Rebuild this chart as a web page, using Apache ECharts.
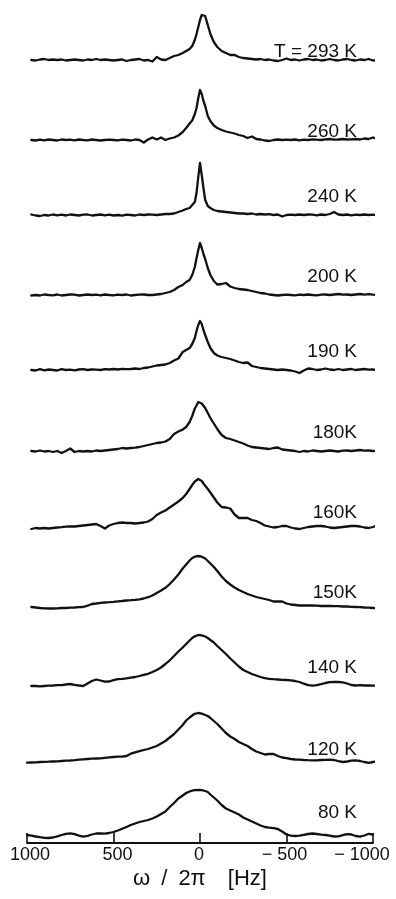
<!DOCTYPE html>
<html>
<head>
<meta charset="utf-8">
<script src="https://cdn.jsdelivr.net/npm/echarts@6/dist/echarts.min.js"></script>
<style>
  html, body { margin: 0; padding: 0; background: #ffffff; }
  #chart { width: 396px; height: 899px; }
</style>
</head>
<body>
<div id="chart"></div>
<script>
// NMR line shapes vs. temperature, frequency offset in Hz (axis runs +1000 -> -1000)
const temperatures = ['T = 293 K', '260 K', '240 K', '200 K', '190 K', '180K', '160K', '150K', '140 K', '120 K', '80 K'];

const tickValues = [1000, 500, 0, -500, -1000];

const freqHz = [
  1000, 975, 950, 925, 900, 875, 850, 825, 800, 775, 750, 725, 700, 675, 650,
  625, 600, 575, 550, 525, 500, 475, 450, 425, 400, 375, 350, 325, 300, 275,
  250, 225, 200, 175, 150, 125, 100, 80, 60, 45, 30, 20, 10, 0, -10, -20, -30,
  -45, -60, -80, -100, -125, -150, -175, -200, -225, -250,
  -275, -300, -325, -350, -375, -400, -425, -450, -475, -500, -525, -550, -575,
  -600, -625, -650, -675, -700, -725, -750, -775, -800, -825, -850, -875, -900,
  -925, -950, -975, -1000, -1030
];

// intensities (arbitrary units, baseline = 0) on the freqHz points
const i293 = [
  null, 0, -0.5, 0.5, 1, 0, 0.5, 0, 0.5, -0.5, 0, 0.5, 0, -0.5, 0.5, 0, 1, 0, 0.5, 0, -0.5, 0, 0.5, -1, 0, 0.5, 1, -0.5, 0, -1.5,
  3, 0.5, 0, 2, 4, 5, 7, 9, 11, 14, 20, 26, 33, 40, 45, 47, 44, 35, 26, 18, 13, 9, 7, 5, 5, 3, 2,
  1.5, 1, 0.5, 1, 0, 0.5, -0.5, -1, 0, 1.5, 0, 0.5, -0.5, 0.5, 1, 0, 0.5, -0.5, 0, 1, 0, -0.5, 0.5, 1, 0, -0.5, 0.5, 0, 1, -0.5, 0
];
const i260 = [
  null, 0, -0.5, 0.3, -0.3, 0.5, 0, -0.5, 0.5, 0, 0.3, -0.3, 0.5, 0, -0.3, 0.5, 0, -0.5, 0, 0.3, 0, -0.3, 0.3, 0, -0.5, 0.5, 0, -2.5, 0.5, 2.5,
  0.5, 2.5, 0, 1.5, 2.5, 4.5, 8, 12, 16.5, 19.5, 26, 32, 42, 50, 46, 39, 34, 24, 19, 14.5, 12, 10, 8.5, 7.5, 6.5, 5, 4,
  2, 3.5, 1, 0.5, -0.5, -1, 0, 0.5, 0, 0.3, 0, 0.5, -0.3, 0.3, 0, 0.7, 0.3, 0, 0.7, 1, 0.3, 0.5, 1, 0.5, 0.7, 1, 0.5, 1.5, 1, 2.5, 0.5
];
const i240 = [
  null, 0.5, -0.5, -1, 0, -0.5, 0.5, -0.3, 0.3, -0.5, 0.5, 0, -0.5, 0.3, 0.5, -0.5, 0, 0.5, -0.3, 0.3, -0.5, 0, -0.7, 0.3, 0, -0.5, 0.5, 0, 0.5, 0.3,
  0, 0.5, 1, 1, 1.5, 3, 4.5, 6, 7, 10, 13, 22, 38, 52, 40, 27, 15, 9, 7, 5, 4, 3.5, 3, 2.5, 2, 1.5, 1.5,
  1, 1.5, 0.5, 1, 0.5, 0.8, 0, 0.5, -1.5, 0, 0.3, 0, 0.5, 0, 0.5, 0.3, -0.3, 0.5, 0, 1, 3, 0.5, 0, 0.5, -0.3, 0.3, 0, 0.5, 0, 0.3, 0
];
const i200 = [
  null, -0.5, 0, -0.5, 0.5, 0, -0.3, 0.5, -0.5, 0, 0.5, 0.3, -0.5, 0, 0.5, 0, 0.3, -0.3, 0.5, 0, -0.3, 0.3, 0, 0.5, -0.5, 0, 0.3, 0.5, 0, 0,
  0.5, 1, 2, 3, 5, 8, 10, 13, 15, 20, 28, 37, 45, 52, 47, 41, 36, 27, 20, 14, 10.5, 11, 12, 8.5, 7, 6, 5.5,
  5, 4, 3, 2, 1.5, 0.5, 0, -0.5, 0, 0.3, 0, -0.3, 0.3, 0, 0.5, 0, -0.3, 0.3, 0.5, 0, 0.5, 1, 0.3, 0.5, 0, 0.5, 1, 0.3, 0.8, 0.3, 0
];
const i190 = [
  null, 0, -0.5, 0.8, -0.3, 0.5, 0, -0.5, 0.8, 0, 0.3, -0.3, 0.5, 0.8, 0, 0.5, 0.3, 0, 0.8, 0.5, 1, 0.5, 1.2, 0.8, 1, 1.5, 1, 2, 2.5, 3.5,
  4.5, 5, 5.5, 7, 9.5, 11.5, 18, 20, 22, 26, 32, 39, 45, 49, 46, 40, 35, 28, 22, 17, 14.5, 13, 12, 11, 9.5, 8, 7,
  7.5, 4, 3, 2, 1.5, 1, 0.5, 0, 0.5, 0, -0.5, -1.5, -3, -0.5, 1.5, 1, 0, 0.5, 1.5, 0.5, 0, 1, 0, 0.5, 1, 0, 0.5, 1, 0.3, 0.5, -0.5
];
const i180 = [
  null, 0, -0.5, 0.5, -0.5, 0, -1, 0, -2, 0, 2.5, -1, 0, -0.5, 0, -0.5, 0.5, 0, 0.5, 1, 1.5, 2, 3, 2.5, 3, 3.3, 4, 5, 6, 7,
  8, 8.5, 9.5, 12, 17, 19.5, 21.5, 24, 29, 35, 42.5, 45.5, 49, 48.5, 47.5, 45.5, 43, 38, 33, 27.5, 22, 16, 13, 12, 10.5, 9, 7.5,
  5.5, 4, 3.5, 3, 2.5, 2, 3, 3.5, 1.5, 1, 0.5, 0, -1, 0, -0.5, 0.5, 0, -0.5, 0, 0.5, 0, -0.5, 0.3, 0.5, 0, 0.5, 1, 0.3, 0.5, 0, 0.3
];
const i160 = [
  null, -1, 0, -0.5, 0, -0.5, 0, 0.5, 0.8, 1.3, 1.5, 1.5, 2, 2.5, 3, 3.5, 4, 2, -0.5, 2.5, 4, 5, 5.5, 5, 5, 4.5, 5, 5.5, 6.5, 9,
  13, 15.5, 17.5, 20.5, 23.5, 26.5, 30, 34, 39, 43, 46.5, 48, 49, 48.5, 47, 44.5, 42.5, 39, 35.5, 30.5, 25.5, 21, 20.5, 19.5, 13.5, 10, 10,
  10, 8, 7, 5, 2.5, 1.5, 0.5, 1, 2, 2, 0.5, -0.5, -1, 0, 1, 1.5, 2, 2, 1.5, 0.5, 0, 0.5, 1, 1.5, 2, 2, 1.5, 0.5, 0, 1, 3
];
const i150 = [
  null, 1, 0.5, 0, -0.3, -0.5, -0.5, -0.3, 0, 0, 0.3, 0.5, 0.8, 1, 2.3, 4, 4.5, 5.2, 5.5, 5.8, 6.2, 6.7, 7, 7.5, 7.8, 8.2, 8.7, 9.5, 10.8, 12.5,
  15, 17.5, 20.2, 24, 28.5, 33.5, 39.5, 43.5, 47.5, 50, 51.3, 51.8, 52, 51.8, 51.3, 50.8, 49.5, 47, 44.5, 41, 37, 31.5, 27, 23.5, 20.5, 18, 16,
  14, 12.5, 11, 10, 9, 8, 6.5, 6.5, 6.5, 4.5, 3.5, 3, 2.5, 2.5, 2.5, 2.5, 2.3, 2, 2, 2, 1.8, 1.8, 1.5, 1.5, 1.2, 1, 0.8, 0.5, 0.3, 0, -0.3
];
const i140 = [
  null, 0, 0, -0.3, 0, 0.3, 0.5, 0.8, 0.8, 1.5, 2, 1.2, 0.5, 0, 2.5, 5, 6.5, 5.5, 4.3, 4.5, 5.8, 6.8, 7.2, 7.7, 8.4, 9, 10, 11.2, 12.2, 14,
  16, 18.5, 22, 25.7, 30, 34.5, 38.5, 42, 45.5, 48, 49.7, 50.5, 51, 51, 50.6, 50, 49.5, 48, 46, 43.5, 40, 36, 32, 27.5, 23.5, 19.5, 16,
  14, 12, 10.5, 9, 7.8, 7.2, 6.8, 6.5, 6.2, 6, 5.6, 5, 4, 2.3, 0.8, 0.3, 0.8, 1.8, 3, 3.8, 4, 4, 3.7, 2.5, 1, 0.5, 0.8, 0.5, 0.5, 0.3, 0.5
];
const i120 = [
  -0.7, -0.5, -0.3, 0, 0.2, 0.3, 0.5, 0.7, 1, 1.3, 1.5, 1.8, 2.3, 2.7, 3, 3.3, 3.5, 3.7, 4.2, 4.7, 5, 5.3, 5.3, 6, 8.3, 9.7, 10.8, 12, 13, 14.5,
  16, 18.5, 21, 24.5, 28, 32.5, 37, 41.5, 44.5, 46.5, 48.2, 49, 49, 48.7, 48.3, 47.7, 47, 46, 44, 41, 38, 33.5, 29, 25.5, 23, 20, 18,
  16, 13, 10.5, 9, 7.5, 8, 8, 6, 4.5, 3.8, 3, 2.5, 2.3, 2, 1.8, 1.7, 1.7, 2, 2.2, 2.3, 2, 0.8, 0, 0.5, 1.3, 1.7, 1, 0, -0.8, 0, 1
];
const i80 = [
  1, 0.3, -0.5, -1.2, -1.8, -2, -1.5, -0.3, 1, 2.2, 2.7, 1.8, 0.3, -0.7, 0.2, 1.5, 2.5, 2.7, 2.3, 3, 4, 5.5, 7.3, 9, 11, 12.5, 14, 15, 16, 17.5,
  19.5, 22, 24.5, 29, 33, 37.5, 40.5, 43, 44.5, 45.3, 45.8, 46, 46, 46, 45.8, 45.5, 45, 44, 41.5, 38.5, 35.5, 31, 27.5, 25.5, 23.5, 21.5, 18.5,
  16.5, 14.5, 12.5, 10.5, 9, 8.3, 7.8, 7, 4.5, 1.5, 0.3, 0, 0.3, 1.2, 2, 2.5, 2, 1.3, 1, 0.3, -0.5, -0.3, 0.8, 1.8, 1.5, 0, -0.7, 0.5, 2.2, 1.5, null
];

const spectra = [i293, i260, i240, i200, i190, i180, i160, i150, i140, i120, i80];

// ---- layout ----
const PLOT_LEFT = 27, PLOT_RIGHT = 373;
const ROW_H = 60;                     // one intensity unit = 1 px
const rowBaseline = [60, 140, 215, 295, 370, 451, 528, 608, 686, 762, 836];
const labelCenterY = [52, 132, 197, 277, 352, 433, 513, 593, 668, 750, 813];
const LABEL_RIGHT = 357;
const AXIS_OFFSET = 7;
const INK = '#111111';
const FONT = '"Liberation Sans", Arial, sans-serif';
const tickShift = { '1000': 3, '500': 4, '0': -1, '-500': -2, '-1000': -11 };

const last = spectra.length - 1;
const grids = [], xAxes = [], yAxes = [], series = [];

spectra.forEach((vals, i) => {
  grids.push({
    left: PLOT_LEFT,
    width: PLOT_RIGHT - PLOT_LEFT,
    top: rowBaseline[i] - ROW_H,
    height: ROW_H
  });
  const isBottom = i === last;
  xAxes.push({
    type: 'value', gridIndex: i, min: -1000, max: 1000, interval: 500, inverse: true,
    show: isBottom,
    offset: AXIS_OFFSET,
    splitLine: { show: false },
    axisLine: { show: true, onZero: false, lineStyle: { color: INK, width: 2 } },
    axisTick: { show: true, inside: true, length: 10, lineStyle: { color: INK, width: 1.6 } },
    axisLabel: {
      show: true, margin: 3,
      formatter: v => {
        const s = tickShift[String(v)] || 0;
        const key = s > 0 ? 'r' + s : (s < 0 ? 'l' + (-s) : 'c');
        const txt = v < 0 ? '\u2212 ' + (-v) : String(v);
        return '{' + key + '|' + txt + '}';
      },
      rich: (() => {
        const base = { fontSize: 18, fontFamily: FONT, color: INK };
        const r = { c: Object.assign({}, base) };
        Object.values(tickShift).forEach(s => {
          if (s > 0) r['r' + s] = Object.assign({ padding: [0, 0, 0, 2 * s] }, base);
          if (s < 0) r['l' + (-s)] = Object.assign({ padding: [0, -2 * s, 0, 0] }, base);
        });
        return r;
      })()
    },
    name: isBottom ? '\u03c9\u2002/\u20022\u03c0\u2003[Hz]' : '',
    nameLocation: 'middle',
    nameGap: 25,
    nameTextStyle: { fontSize: 22, fontFamily: FONT, color: INK }
  });
  yAxes.push({ type: 'value', gridIndex: i, min: 0, max: ROW_H, show: false });
  series.push({
    type: 'line',
    name: temperatures[i],
    xAxisIndex: i,
    yAxisIndex: i,
    data: freqHz.map((f, k) => [f, vals[k]]).filter(p => p[1] !== null),
    showSymbol: false,
    clip: false,
    silent: true,
    animation: false,
    lineStyle: { color: INK, width: 2.3, join: 'round', cap: 'round' }
  });
});

const labels = temperatures.map((t, i) => ({
  type: 'text',
  x: LABEL_RIGHT,
  y: labelCenterY[i],
  style: {
    text: t, fill: INK, font: '19px ' + FONT,
    align: 'right', verticalAlign: 'middle',
    textAlign: 'right', textVerticalAlign: 'middle'
  }
}));

const chart = echarts.init(document.getElementById('chart'), null, { renderer: 'canvas' });
chart.setOption({
  backgroundColor: '#ffffff',
  animation: false,
  grid: grids,
  xAxis: xAxes,
  yAxis: yAxes,
  series: series,
  graphic: labels
});
</script>
</body>
</html>
